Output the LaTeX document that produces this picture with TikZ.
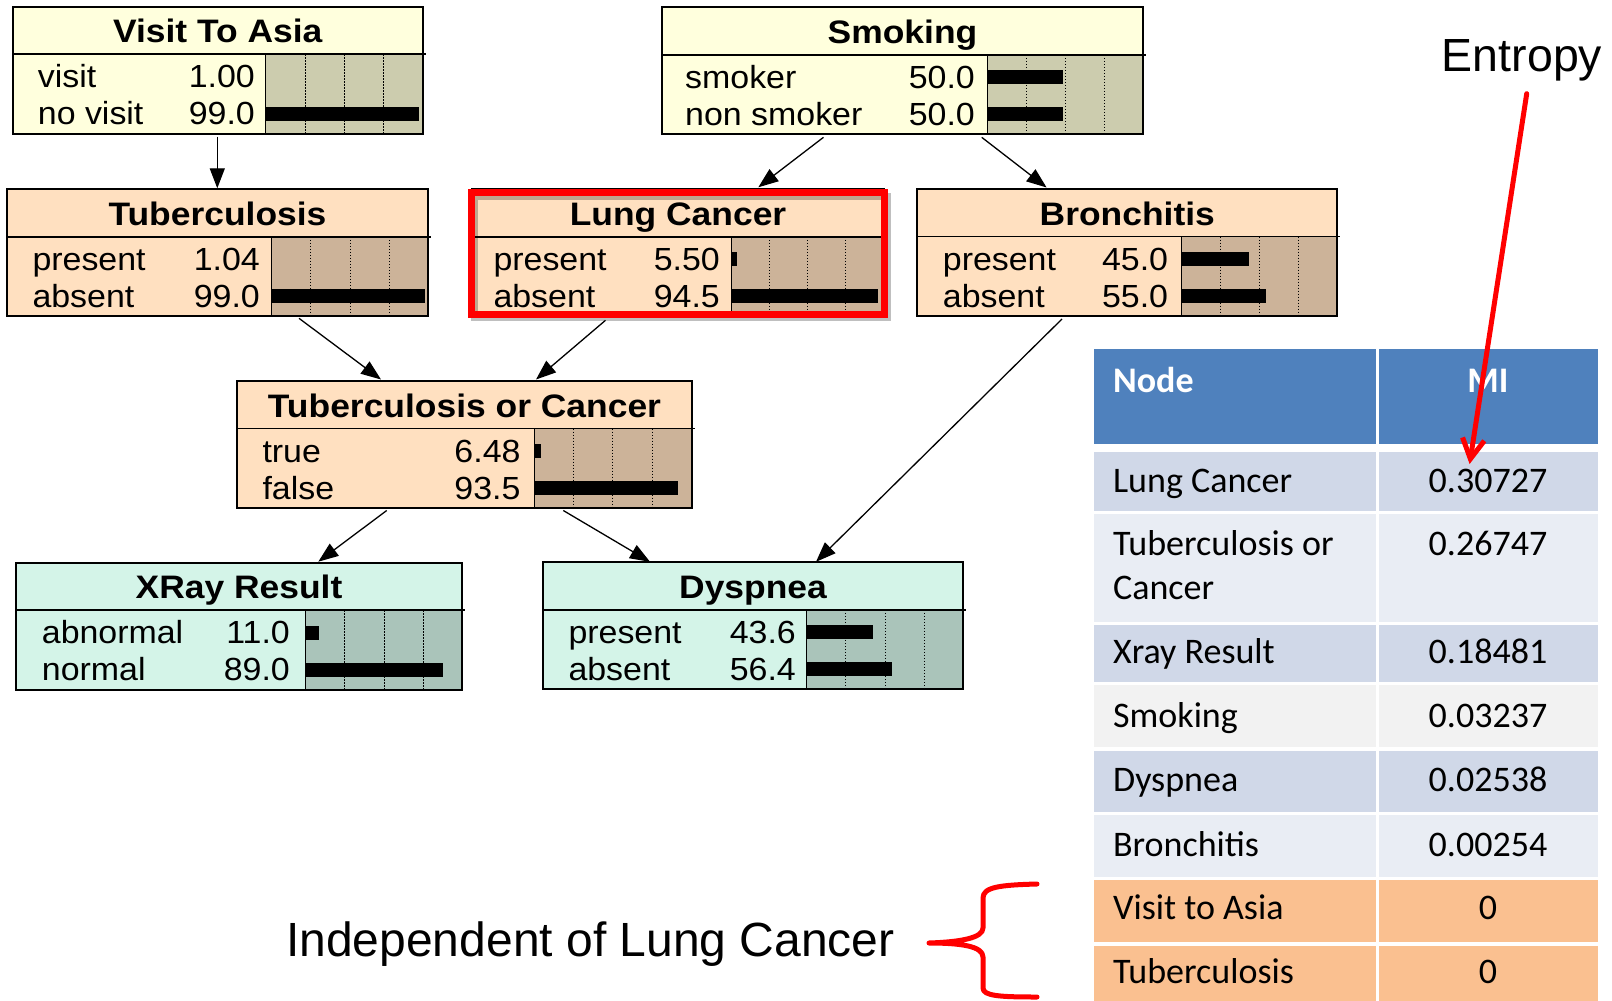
\documentclass[tikz,border=0pt]{standalone}
\usepackage{fontspec}
\usepackage{graphicx}
\usetikzlibrary{arrows.meta,calc}
\newfontfamily\arialf{Liberation Sans}
\newfontfamily\calf{Carlito}
\definecolor{ylbg}{HTML}{FFFFDD}
\definecolor{ylbar}{HTML}{CCCCAE}
\definecolor{pcbg}{HTML}{FFE0C0}
\definecolor{pcbar}{HTML}{CCB399}
\definecolor{mnbg}{HTML}{D4F4E8}
\definecolor{mnbar}{HTML}{AAC4BA}
\definecolor{thead}{HTML}{4F81BD}
\definecolor{tra}{HTML}{D0D8E8}
\definecolor{trb}{HTML}{E9EDF4}
\definecolor{trg}{HTML}{F2F2F2}
\definecolor{tro}{HTML}{FAC090}
\newcommand\netbox[8]{%
  \node[netnode, fill=#6, minimum width={(#4-#2)*1pt}, anchor=north west] (#1) at (#2,#3) {};
  \fill[#7] (#5,{#3+47.5}) rectangle (#4,{#3+127});
  \foreach \k in {1,2,3}{\draw[gridl] ({#5+\k*(#4-#5)/4},{#3+47.5}) -- ({#5+\k*(#4-#5)/4},{#3+127});}
  \draw[thinl] (#5,{#3+47.5}) -- (#5,{#3+127});
  \draw[sepl] (#2,{#3+47.5}) -- ({#4+3},{#3+47.5});
  \draw[boxl] (#1.north west) rectangle (#1.south east);
  \node[ttl, anchor=base] (#1-title) at ({(#2+#4)/2},{#3+36}) {\scalebox{1.09}[1]{#8}};
}
\newcommand\netrow[9]{%
  \node[rowt, anchor=base west] (#1-l#3) at (#4,{#2+#3}) {\scalebox{1.06}[1]{#8}};
  \node[rowt, anchor=base east] (#1-v#3) at (#5,{#2+#3}) {\scalebox{1.06}[1]{#9}};
  \fill (#6,{#2+#3-18}) rectangle (#7,{#2+#3-4});
}
\newcommand\tcell[6]{%
  \node[tcellst, fill=#6, minimum width={(#4-#2)*1pt}, minimum height={(#5-#3)*1pt}, anchor=north west] (#1) at (#2,#3) {};
}
\begin{document}
\begin{tikzpicture}[x=1pt,y=-1pt,
  netnode/.style={inner sep=0, outer sep=0, minimum height=127pt, draw=none},
  boxl/.style={line width=2pt},
  sepl/.style={line width=1.5pt},
  thinl/.style={line width=1pt},
  gridl/.style={line width=0.9pt, dash pattern=on 1.5pt off 1.5pt},
  ttl/.style={font=\arialf\bfseries\fontsize{32.5}{38}\selectfont, inner sep=0},
  rowt/.style={font=\arialf\fontsize{32}{38}\selectfont, inner sep=0},
  arr/.style={line width=1.3pt, -{Triangle[length=20pt,width=15pt]}},
  tcellst/.style={inner sep=0, outer sep=0, draw=none},
  tbt/.style={font=\calf\fontsize{36}{43}\selectfont, inner sep=0},
  tbh/.style={font=\calf\bfseries\fontsize{36}{43}\selectfont, inner sep=0, text=white},
  redl/.style={red, line width=5pt, line cap=round, line join=round}
]
\useasboundingbox (0,0) rectangle (1612,1001);
\fill[white] (0,0) rectangle (1612,1001);

% ---- Bayesian network boxes ----
\netbox{visit}{12.7}{6.7}{422.7}{265.7}{ylbg}{ylbar}{Visit To Asia}
\netrow{visit}{6.7}{81}{37.7}{255}{265.7}{265.7}{visit}{1.00}
\netrow{visit}{6.7}{118}{37.7}{255}{265.7}{419}{no visit}{99.0}

\netbox{smoke}{661.7}{7.3}{1143.3}{987.3}{ylbg}{ylbar}{Smoking}
\netrow{smoke}{7.3}{81}{685}{975}{987.3}{1063.3}{smoker}{50.0}
\netrow{smoke}{7.3}{118}{685}{975}{987.3}{1063.3}{non smoker}{50.0}

\netbox{tub}{6.7}{189.3}{428.3}{271.7}{pcbg}{pcbar}{Tuberculosis}
\netrow{tub}{189.3}{81}{32.3}{260}{271.7}{271.7}{present}{1.04}
\netrow{tub}{189.3}{118}{32.3}{260}{271.7}{425}{absent}{99.0}

\netbox{lung}{472}{189.3}{884}{731.7}{pcbg}{pcbar}{Lung Cancer}
\netrow{lung}{189.3}{81}{493.3}{720}{731.7}{736.7}{present}{5.50}
\netrow{lung}{189.3}{118}{493.3}{720}{731.7}{877.7}{absent}{94.5}

\netbox{bron}{917.3}{189}{1337.3}{1181.7}{pcbg}{pcbar}{Bronchitis}
\netrow{bron}{189}{81}{942.7}{1168.3}{1181.7}{1249.3}{present}{45.0}
\netrow{bron}{189}{118}{942.7}{1168.3}{1181.7}{1265.7}{absent}{55.0}

\netbox{tborca}{237.3}{381}{691.7}{534}{pcbg}{pcbar}{Tuberculosis or Cancer}
\netrow{tborca}{381}{81}{262.3}{520.7}{534}{540.7}{true}{6.48}
\netrow{tborca}{381}{118}{262.3}{520.7}{534}{678.3}{false}{93.5}

\netbox{xray}{15.7}{562.7}{462.3}{305.7}{mnbg}{mnbar}{XRay Result}
\netrow{xray}{562.7}{81}{41.7}{290}{305.7}{319.3}{abnormal}{11.0}
\netrow{xray}{562.7}{118}{41.7}{290}{305.7}{442.7}{normal}{89.0}

\netbox{dysp}{542.7}{562.3}{963.3}{806.7}{mnbg}{mnbar}{Dyspnea}
\netrow{dysp}{562.3}{81}{568.3}{796}{806.7}{872.7}{present}{43.6}
\netrow{dysp}{562.3}{118}{568.3}{796}{806.7}{892.3}{absent}{56.4}

% highlight of Lung Cancer
\draw[black, opacity=0.25, line width=7pt] (474.8,196) rectangle (887.2,317.7);
\draw[red, line width=7pt] (471.8,192.5) rectangle (884.2,314.2);

% ---- connectors ----
\draw[arr] ($(visit.south west)+(204.6,3)$) -- ($(tub.north west)+(210.6,-1)$);
\draw[arr] ($(smoke.south west)+(161.8,3)$) -- ($(lung.north west)+(286.3,-2)$);
\draw[arr] ($(smoke.south west)+(320,3)$) -- ($(bron.north west)+(129.3,-1.5)$);
\draw[arr] ($(tub.south west)+(292.3,2)$) -- ($(tborca.north west)+(143.7,-1.5)$);
\draw[arr] ($(lung.south west)+(133.5,4)$) -- ($(tborca.north west)+(298.7,-1.5)$);
\draw[arr] ($(bron.south west)+(144.7,3)$) -- ($(dysp.north west)+(273.3,-0.5)$);
\draw[arr] ($(tborca.south west)+(149.4,2.5)$) -- ($(xray.north west)+(302.6,-1)$);
\draw[arr] ($(tborca.south west)+(326,2.5)$) -- ($(dysp.north west)+(107.3,-0.5)$);

% ---- MI table ----
\tcell{hd1}{1094.3}{349.2}{1375.9}{443.5}{thead}
\tcell{hd2}{1378.6}{349.2}{1597.5}{443.5}{thead}
\tcell{nm1}{1094.3}{452}{1375.9}{511.4}{tra}
\tcell{mi1}{1378.6}{452}{1597.5}{511.4}{tra}
\tcell{nm2}{1094.3}{514}{1375.9}{621.6}{trb}
\tcell{mi2}{1378.6}{514}{1597.5}{621.6}{trb}
\tcell{nm3}{1094.3}{625}{1375.9}{681.6}{tra}
\tcell{mi3}{1378.6}{625}{1597.5}{681.6}{tra}
\tcell{nm4}{1094.3}{685}{1375.9}{747}{trg}
\tcell{mi4}{1378.6}{685}{1597.5}{747}{trg}
\tcell{nm5}{1094.3}{750.5}{1375.9}{812.2}{tra}
\tcell{mi5}{1378.6}{750.5}{1597.5}{812.2}{tra}
\tcell{nm6}{1094.3}{815}{1375.9}{877}{trb}
\tcell{mi6}{1378.6}{815}{1597.5}{877}{trb}
\tcell{nm7}{1094.3}{880.4}{1375.9}{942.2}{tro}
\tcell{mi7}{1378.6}{880.4}{1597.5}{942.2}{tro}
\tcell{nm8}{1094.3}{945.6}{1375.9}{1001}{tro}
\tcell{mi8}{1378.6}{945.6}{1597.5}{1001}{tro}

\node[tbh, anchor=base west] (hd1t) at (1112.9,392.6) {Node};
\node[tbh, anchor=base] (hd2t) at (1488,392.6) {MI};
\node[tbt, anchor=base west] (nm1t) at (1112.9,492.4) {Lung Cancer};
\node[tbt, anchor=base] (mi1t) at (1488,492.4) {0.30727};
\node[tbt, anchor=base west] (nm2t) at (1112.9,555.7) {Tuberculosis or};
\node[tbt, anchor=base west] (nm2u) at (1112.9,599.5) {Cancer};
\node[tbt, anchor=base] (mi2t) at (1488,555.7) {0.26747};
\node[tbt, anchor=base west] (nm3t) at (1112.9,663) {Xray Result};
\node[tbt, anchor=base] (mi3t) at (1488,663) {0.18481};
\node[tbt, anchor=base west] (nm4t) at (1112.9,727) {Smoking};
\node[tbt, anchor=base] (mi4t) at (1488,727) {0.03237};
\node[tbt, anchor=base west] (nm5t) at (1112.9,791.5) {Dyspnea};
\node[tbt, anchor=base] (mi5t) at (1488,791.5) {0.02538};
\node[tbt, anchor=base west] (nm6t) at (1112.9,856) {Bronchitis};
\node[tbt, anchor=base] (mi6t) at (1488,856) {0.00254};
\node[tbt, anchor=base west] (nm7t) at (1112.9,919.5) {Visit to Asia};
\node[tbt, anchor=base] (mi7t) at (1488,919.5) {0};
\node[tbt, anchor=base west] (nm8t) at (1112.9,983.5) {Tuberculosis};
\node[tbt, anchor=base] (mi8t) at (1488,983.5) {0};

% ---- annotations ----
\node[anchor=base west, font=\arialf\fontsize{46.5}{56}\selectfont, inner sep=0] (entropy) at (1441.7,71.7) {Entropy};
\draw[redl, -{Straight Barb[length=20pt,width=22pt]}] ($(entropy.base west)+(85,22)$) -- ($(mi1.north west)+(91,12)$);

\node[anchor=base west, font=\arialf\fontsize{48}{58}\selectfont, inner sep=0] (indep) at (286,956) {Independent of Lung Cancer};
\draw[redl] (1037,884) .. controls (1000,885) and (983,887) .. (983,898) -- (983,928) .. controls (983,938) and (960,942) .. (929,943) .. controls (960,943) and (983,946) .. (983,957) -- (983,988) .. controls (983,996) and (1000,997) .. (1037,997);
\end{tikzpicture}
\end{document}
